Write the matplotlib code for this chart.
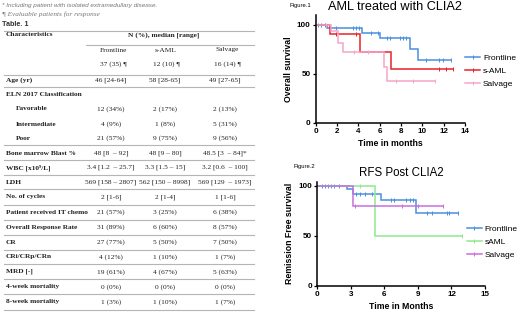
import numpy as np
import matplotlib
matplotlib.use('Agg')
import matplotlib.pyplot as plt
from matplotlib.lines import Line2D

W, H = 520, 314

# ---------------- table data ----------------
groups = ['Frontline', 's-AML', 'Salvage']
group_n = ['37 (35) ¶', '12 (10) ¶', '16 (14) ¶']
row_labels = ['Age (yr)', 'ELN 2017 Classification', 'Favorable', 'Intermediate', 'Poor',
              'Bone marrow Blast %', 'WBC [x10⁹/L]', 'LDH', 'No. of cycles',
              'Patient received IT chemo', 'Overall Response Rate', 'CR', 'CRi/CRp/CRn',
              'MRD [-]', '4-week mortality', '8-week mortality']
indented = ['Favorable', 'Intermediate', 'Poor']
frontline_vals = ['46 [24-64]', '', '12 (34%)', '4 (9%)', '21 (57%)', '48 [8  – 92]',
                  '3.4 [1.2  – 25.7]', '569 [158 – 2807]', '2 [1-6]', '21 (57%)', '31 (89%)',
                  '27 (77%)', '4 (12%)', '19 (61%)', '0 (0%)', '1 (3%)']
saml_vals = ['58 [28-65]', '', '2 (17%)', '1 (8%)', '9 (75%)', '48 [9 – 80]',
             '3.3 [1.5 – 15]', '562 [150 – 8998]', '2 [1-4]', '3 (25%)', '6 (60%)',
             '5 (50%)', '1 (10%)', '4 (67%)', '0 (0%)', '1 (10%)']
salvage_vals = ['49 [27-65]', '', '2 (13%)', '5 (31%)', '9 (56%)', '48.5 [3  – 84]*',
                '3.2 [0.6  – 100]', '569 [129  – 1973]', '1 [1-6]', '6 (38%)', '8 (57%)',
                '7 (50%)', '1 (7%)', '5 (63%)', '0 (0%)', '1 (7%)']

# ---------------- Figure 1: overall survival ----------------
os_front_t = [0, 1.1, 4.3, 6.0, 8.8, 9.6]
os_front_s = [100, 97.3, 92.1, 86.2, 75.4, 64.6]
os_front_end = 12.7
os_front_cens = [0.25, 0.5, 0.9, 1.9, 3.5, 3.75, 4.1, 5.2, 5.8, 6.7, 6.95, 7.9, 8.2, 8.5,
                 10.3, 11.6, 11.9, 12.7]
os_saml_t = [0, 1.3, 4.2, 7.1]
os_saml_s = [100, 90.9, 72.7, 54.5]
os_saml_end = 12.9
os_saml_cens = [1.9, 3.8, 11.6, 12.2, 12.9]
os_salv_t = [0, 1.4, 2.1, 2.6, 6.4, 6.7]
os_salv_s = [100, 93.8, 82.0, 72.0, 57.3, 43.0]
os_salv_end = 11.2
os_salv_cens = [1.0, 3.6, 4.9, 7.5, 9.1, 11.2]

# ---------------- Figure 2: remission free survival ----------------
rfs_front_t = [0, 2.7, 3.2, 5.7, 8.8]
rfs_front_s = [100, 96.3, 92.2, 85.6, 73.0]
rfs_front_end = 12.6
rfs_front_cens = [0.4, 0.7, 1.0, 1.2, 1.45, 1.9, 3.5, 3.8, 4.3, 4.9, 6.6, 6.9, 7.9, 8.3,
                  8.6, 9.8, 10.3, 11.6, 11.8, 12.6]
rfs_saml_t = [0, 5.2]
rfs_saml_s = [100, 50]
rfs_saml_end = 12.9
rfs_saml_cens = [3.8, 12.9]
rfs_salv_t = [0, 3.2]
rfs_salv_s = [100, 80]
rfs_salv_end = 11.2
rfs_salv_cens = [3.4, 7.6, 9.0, 11.2]

BLUE, RED, PINK = '#4a8fe0', '#e8222b', '#f5a6c8'
GREEN, PURPLE = '#8de98d', '#c86ee0'

SANS = 'Liberation Sans'
SERIF = ['Liberation Serif', 'DejaVu Serif']

fig = plt.figure(figsize=(W / 100, H / 100), dpi=100)

# ---- table drawn in pixel coordinates
tab = fig.add_axes([0, 0, 1, 1])
tab.set_xlim(0, W)
tab.set_ylim(H, 0)
tab.axis('off')

tab.text(2, 5, '* Including patient with isolated extramedullary disease.', fontsize=4.6,
         style='italic', color='#777777', family=SANS, va='center')
tab.text(2, 14.5, '¶ Evaluable patients for response', fontsize=5.2, style='italic',
         color='#777777', family=SERIF, va='center')
tab.text(2, 24, 'Table. 1', fontsize=5.2, weight='bold', color='#333333', family=SANS,
         va='center')

tcol = '#222222'
lcol = '#b5b5b5'
col_x = [111, 165, 225]
hdr_x = [113, 166, 227]

tab.text(6, 35, 'Characteristics', fontsize=5.3, weight='bold', family=SERIF, color=tcol,
         va='center')
tab.text(164, 35, 'N (%), median [range]', fontsize=5.3, weight='bold', family=SERIF,
         color=tcol, va='center', ha='center')
for x, g, n in zip(hdr_x, groups, group_n):
    tab.text(x, 50, g, fontsize=5.3, family=SERIF, color=tcol, va='center', ha='center')
    tab.text(x, 64, n, fontsize=5.3, family=SERIF, color=tcol, va='center', ha='center')

row_y = [80.5, 94.5, 109, 124, 138.5, 153.3, 167.7, 182.3, 196.8, 212.3, 227, 242,
         256.7, 271.7, 286.7, 301.7]
for y, lab, a, b, c in zip(row_y, row_labels, frontline_vals, saml_vals, salvage_vals):
    x0 = 16 if lab in indented else 6
    tab.text(x0, y, lab, fontsize=5.3, weight='bold', family=SERIF, color=tcol, va='center')
    for x, v in zip(col_x, [a, b, c]):
        tab.text(x, y, v, fontsize=5.3, family=SERIF, color=tcol, va='center', ha='center')

for y in [31, 75, 87, 144.5, 160, 174.5, 189, 204.5, 220, 235, 249.5, 264.3, 279, 294, 309.5]:
    tab.plot([4, 254], [y, y], color=lcol, lw=0.8)
tab.plot([86, 254], [45, 45], color=lcol, lw=0.8)


def km(ax, times, surv, end, cens, color, label):
    t = list(times) + [end]
    s = list(surv) + [surv[-1]]
    ax.step(t, s, where='post', color=color, lw=1.1, label=label, solid_joinstyle='miter')
    idx = np.searchsorted(times, cens, side='right') - 1
    ax.plot(cens, np.array(surv)[idx], ls='none', marker='|', ms=3, mew=0.7, color=color)


def style_axes(ax, xmax, xstep, ytop):
    ax.set_xlim(0, xmax)
    ax.set_ylim(0, ytop)
    ax.set_xticks(np.arange(0, xmax + 0.1, xstep))
    ax.set_yticks([0, 50, 100])
    for sp in ['top', 'right']:
        ax.spines[sp].set_visible(False)
    for sp in ['left', 'bottom']:
        ax.spines[sp].set_linewidth(1.1)
    ax.tick_params(length=2.5, width=0.9, pad=1.2, labelsize=5.8)
    for lab in ax.get_xticklabels() + ax.get_yticklabels():
        lab.set_family(SANS)
        lab.set_weight('bold')
    ax.patch.set_alpha(0)


def px_axes(x0, x1, y_top, y_bot):
    return fig.add_axes([x0 / W, 1 - y_bot / H, (x1 - x0) / W, (y_bot - y_top) / H])


# ---- Figure 1
ax1 = px_axes(315.7, 465, 15.2, 122.7)
km(ax1, os_front_t, os_front_s, os_front_end, os_front_cens, BLUE, 'Frontline')
km(ax1, os_saml_t, os_saml_s, os_saml_end, os_saml_cens, RED, 's-AML')
km(ax1, os_salv_t, os_salv_s, os_salv_end, os_salv_cens, PINK, 'Salvage')
style_axes(ax1, 14, 2, 110)
ax1.set_xlabel('Time in months', fontsize=6.3, weight='bold', family=SANS, labelpad=3)
ax1.set_ylabel('Overall survival', fontsize=6.3, weight='bold', family=SANS, labelpad=3)
fig.text(395 / W, 1 - 7.5 / H, 'AML treated with CLIA2', fontsize=9.2, family=SANS,
         ha='center', va='center')
fig.text(290 / W, 1 - 5 / H, 'Figure.1', fontsize=4.2, family=SANS, ha='left',
         va='center')
h1 = [Line2D([], [], color=c, lw=1.1, marker='|', ms=3, mew=0.7) for c in [BLUE, RED, PINK]]
ax1.legend(h1, ['Frontline', 's-AML', 'Salvage'], loc='upper left',
           bbox_to_anchor=(465 / W, 1 - 54.5 / H), bbox_transform=fig.transFigure,
           frameon=False, numpoints=1, handlelength=1.8, handletextpad=0.35,
           labelspacing=0.62, borderpad=0, borderaxespad=0,
           prop={'family': SANS, 'size': 6})

# ---- Figure 2
ax2 = px_axes(317.3, 485, 181.7, 285.7)
km(ax2, rfs_front_t, rfs_front_s, rfs_front_end, rfs_front_cens, BLUE, 'Frontline')
km(ax2, rfs_saml_t, rfs_saml_s, rfs_saml_end, rfs_saml_cens, GREEN, 'sAML')
km(ax2, rfs_salv_t, rfs_salv_s, rfs_salv_end, rfs_salv_cens, PURPLE, 'Salvage')
style_axes(ax2, 15, 3, 104)
ax2.set_xlabel('Time in Months', fontsize=6.3, weight='bold', family=SANS, labelpad=3)
ax2.set_ylabel('Remission Free survival', fontsize=6.3, weight='bold', family=SANS,
               labelpad=3)
fig.text(401 / W, 1 - 172.5 / H, 'RFS Post CLIA2', fontsize=8.3, family=SANS,
         ha='center', va='center')
fig.text(293 / W, 1 - 166.5 / H, 'Figure.2', fontsize=4.2, family=SANS, ha='left',
         va='center')
h2 = [Line2D([], [], color=c, lw=1.1, marker='|', ms=3, mew=0.7) for c in [BLUE, GREEN, PURPLE]]
ax2.legend(h2, ['Frontline', 'sAML', 'Salvage'], loc='upper left',
           bbox_to_anchor=(466.7 / W, 1 - 225.5 / H), bbox_transform=fig.transFigure,
           frameon=False, numpoints=1, handlelength=1.8, handletextpad=0.35,
           labelspacing=0.62, borderpad=0, borderaxespad=0,
           prop={'family': SANS, 'size': 6})

fig.savefig('out.png', dpi=100)
